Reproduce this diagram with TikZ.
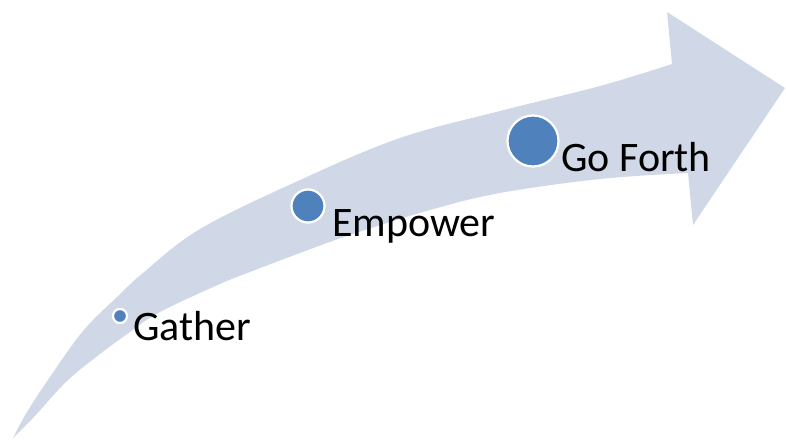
\documentclass[tikz,border=0pt]{standalone}
\usepackage{fontspec}
\setmainfont{Carlito}
\definecolor{arrowfill}{HTML}{D0D8E8}
\definecolor{dotblue}{HTML}{4F81BD}
\begin{document}
\begin{tikzpicture}[x=1pt,y=-1pt,
  dot/.style={circle,fill=dotblue,draw=white,line width=2.2pt,inner sep=0pt},
  lbl/.style={anchor=base west,inner sep=0pt,font=\fontsize{42}{42}\selectfont,text=black}]
\useasboundingbox (0,0) rectangle (786,439);
\fill[arrowfill] plot[smooth,tension=0.6] coordinates {(13,438) (27,412) (50,377) (83,331) (117,297) (143,273) (200,229) (300,180) (400,138) (500,111) (600,86) (672,64)}
  -- (667,12) -- (785,88) -- (693,225) --
  plot[smooth,tension=0.6] coordinates {(688,173) (600,179) (500,193) (430,210) (350,235) (300,253) (250,272) (220,284) (160,312) (130,332) (100,354) (67,381) (33,418) (13,438)} -- cycle;
\node[dot,minimum size=14pt] (d1) at (120,316) {};
\node[dot,minimum size=33pt] (d2) at (308,206) {};
\node[dot,minimum size=51pt] (d3) at (533,141) {};
\node[lbl] (t1) at (133,340) {Gather};
\node[lbl] (t2) at (332,236) {Empower};
\node[lbl] (t3) at (561,171) {Go Forth};
\end{tikzpicture}
\end{document}
